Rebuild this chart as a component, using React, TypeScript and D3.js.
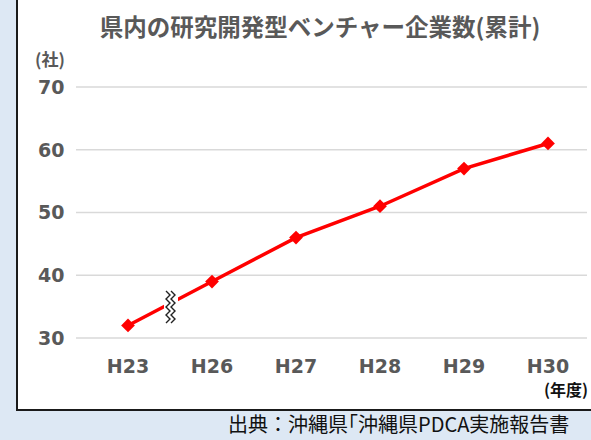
import { useEffect, useRef } from 'react'
import * as d3 from 'd3'

const years = ['H23', 'H26', 'H27', 'H28', 'H29', 'H30']
const companies = [32, 39, 46, 51, 57, 61]
const yTicks = [30, 40, 50, 60, 70]

const TEXT = '#595959'
const JP = '"Noto Sans CJK JP", "DejaVu Sans", sans-serif'

function App() {
  const ref = useRef<SVGSVGElement>(null)

  useEffect(() => {
    if (!ref.current) return
    const root = d3.select(ref.current)
    root.selectAll('*').remove()

    const width = 591
    const height = 440

    // page background + chart box
    root.append('rect').attr('width', width).attr('height', height).attr('fill', '#dde8f4')
    root.append('rect')
      .attr('x', 17).attr('y', -4).attr('width', 590).attr('height', 414)
      .attr('fill', '#fff').attr('stroke', '#1a1a1a').attr('stroke-width', 2)

    const x = d3.scaleBand().domain(years).range([86, 590])
    const y = d3.scaleLinear().domain([30, 70]).range([338, 87])

    // gridlines
    root.append('g').selectAll('line')
      .data(yTicks)
      .enter()
      .append('line')
      .attr('x1', 76).attr('x2', 587)
      .attr('y1', d => y(d)).attr('y2', d => y(d))
      .attr('stroke', '#d9d9d9').attr('stroke-width', 1.5)

    // y labels
    root.append('g').selectAll('text')
      .data(yTicks)
      .enter()
      .append('text')
      .attr('x', 38)
      .attr('y', d => y(d))
      .attr('dy', '0.36em')
      .attr('fill', TEXT)
      .attr('font-family', '"DejaVu Sans", sans-serif')
      .attr('font-weight', 'bold')
      .attr('font-size', '19px')
      .text(d => d)

    // x labels
    root.append('g').selectAll('text')
      .data(years)
      .enter()
      .append('text')
      .attr('x', d => (x(d) ?? 0) + x.bandwidth() / 2)
      .attr('y', 366)
      .attr('dy', '0.36em')
      .attr('text-anchor', 'middle')
      .attr('fill', TEXT)
      .attr('font-family', '"DejaVu Sans", sans-serif')
      .attr('font-weight', 'bold')
      .attr('font-size', '19px')
      .text(d => d)

    // line
    const line = d3.line<number>()
      .x((_, i) => (x(years[i]) ?? 0) + x.bandwidth() / 2)
      .y(d => y(d))
    root.append('path')
      .datum(companies)
      .attr('d', line)
      .attr('fill', 'none')
      .attr('stroke', '#ff0000')
      .attr('stroke-width', 3.5)

    // diamond markers
    root.append('g').selectAll('path')
      .data(companies)
      .enter()
      .append('path')
      .attr('transform', (d, i) => `translate(${(x(years[i]) ?? 0) + x.bandwidth() / 2},${y(d)})`)
      .attr('d', d3.symbol(d3.symbolDiamond2, 120)())
      .attr('fill', '#ff0000')

    // axis break mark
    const waveX = 170
    const wave = (x0: number) => {
      const pts: [number, number][] = []
      for (let i = 0; i <= 8; i++) pts.push([x0 + (i % 2 === 0 ? -2 : 2), 291 + i * 4])
      return d3.line()(pts)
    }
    root.append('rect').attr('x', waveX - 6).attr('y', 289).attr('width', 14).attr('height', 36).attr('fill', '#fff')
    ;[waveX - 2, waveX + 3].forEach(wx => {
      root.append('path').attr('d', wave(wx)).attr('fill', 'none').attr('stroke', '#222').attr('stroke-width', 1.4)
    })

    // title
    root.append('text')
      .attr('x', 320).attr('y', 28)
      .attr('dy', '0.36em')
      .attr('text-anchor', 'middle')
      .attr('fill', TEXT)
      .attr('font-family', JP)
      .attr('font-weight', 'bold')
      .attr('font-size', '23.5px')
      .text('県内の研究開発型ベンチャー企業数(累計)')

    root.append('text')
      .attr('x', 35).attr('y', 60)
      .attr('dy', '0.36em')
      .attr('fill', TEXT)
      .attr('font-family', JP)
      .attr('font-weight', 'bold')
      .attr('font-size', '17px')
      .text('(社)')

    root.append('text')
      .attr('x', 588).attr('y', 390)
      .attr('dy', '0.36em')
      .attr('text-anchor', 'end')
      .attr('fill', '#111')
      .attr('font-family', JP)
      .attr('font-weight', 'bold')
      .attr('font-size', '16px')
      .text('(年度)')

    root.append('text')
      .attr('x', 228).attr('y', 425)
      .attr('dy', '0.36em')
      .attr('fill', '#111')
      .attr('font-family', JP)
      .attr('font-size', '20px')
      .text('出典：沖縄県｢沖縄県PDCA実施報告書')
  }, [])

  return (
    <div style={{ position: 'fixed', left: 0, top: 0 }}>
      <svg ref={ref} width={591} height={440} style={{ display: 'block' }} />
    </div>
  )
}

export default App
